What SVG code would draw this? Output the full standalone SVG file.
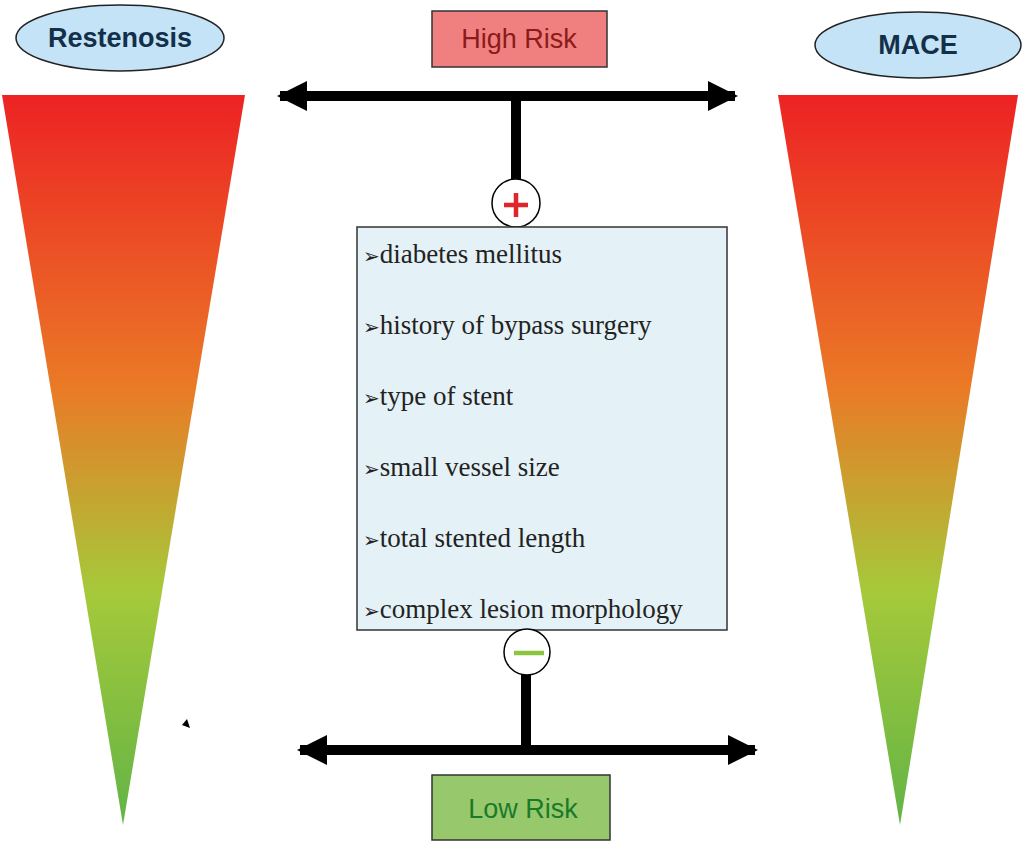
<svg xmlns="http://www.w3.org/2000/svg" width="1024" height="843" viewBox="0 0 1024 843">
<defs>
<linearGradient id="g" x1="0" y1="0" x2="0" y2="1">
<stop offset="0" stop-color="#ed2224"/>
<stop offset="0.4" stop-color="#ea7a26"/>
<stop offset="0.68" stop-color="#a6c93a"/>
<stop offset="1" stop-color="#62b446"/>
</linearGradient>
<marker id="ah" viewBox="0 0 10 10" refX="9" refY="5" markerWidth="3" markerHeight="3" orient="auto-start-reverse" markerUnits="strokeWidth">
<path d="M0,0 L10,5 L0,10 Z" fill="#000"/>
</marker>
</defs>
<style>
.lbl{font-family:"Liberation Sans",Arial,sans-serif;font-size:27px;text-anchor:middle}
.item{font-family:"Liberation Serif","Times New Roman",serif;font-size:27px;fill:#222}
.bul{font-family:"DejaVu Sans",sans-serif;font-size:20px}
.ln{stroke:#000;stroke-width:10;fill:none}
</style>
<rect width="1024" height="843" fill="#fff"/>
<g id="left-wedge"><polygon points="2,95 245,95 123,825" fill="url(#g)"/></g>
<g id="right-wedge"><polygon points="778,95 1018,95 900,825" fill="url(#g)"/></g>
<g id="restenosis"><ellipse cx="120" cy="38" rx="104" ry="33" fill="#c5e3f6" stroke="#222" stroke-width="1.5"/><text class="lbl" x="120" y="47" font-weight="bold" fill="#12304a">Restenosis</text></g>
<g id="mace"><ellipse cx="918" cy="45" rx="103" ry="33" fill="#c5e3f6" stroke="#222" stroke-width="1.5"/><text class="lbl" x="918" y="54" font-weight="bold" fill="#12304a">MACE</text></g>
<g id="high-risk"><rect x="432" y="11" width="175" height="56" fill="#f08080" stroke="#333" stroke-width="1.5"/><text class="lbl" x="519" y="48" fill="#8b1a1a">High Risk</text></g>
<g id="low-risk"><rect x="432" y="775" width="178" height="65" fill="#98c86c" stroke="#333" stroke-width="1.5"/><text class="lbl" x="523" y="818" fill="#1b7a2a">Low Risk</text></g>
<g id="connectors">
<line class="ln" x1="280" y1="96" x2="735" y2="96" marker-start="url(#ah)" marker-end="url(#ah)"/>
<line class="ln" x1="516" y1="96" x2="516" y2="180"/>
<line class="ln" x1="300" y1="750" x2="755" y2="750" marker-start="url(#ah)" marker-end="url(#ah)"/>
<line class="ln" x1="526" y1="672" x2="526" y2="750"/>
</g>
<g id="plus"><circle cx="516" cy="203" r="24" fill="#fff" stroke="#000" stroke-width="1.5"/><path d="M504,205 H528 M516,193 V217" stroke="#e0262a" stroke-width="4.5"/></g>
<g id="factors"><rect x="357" y="227" width="370" height="403" fill="#e4f1f6" stroke="#333" stroke-width="1.5"/>
<text x="363" y="263" class="item"><tspan class="bul">➢</tspan>diabetes mellitus</text>
<text x="363" y="334" class="item"><tspan class="bul">➢</tspan>history of bypass surgery</text>
<text x="363" y="405" class="item"><tspan class="bul">➢</tspan>type of stent</text>
<text x="363" y="476" class="item"><tspan class="bul">➢</tspan>small vessel size</text>
<text x="363" y="547" class="item"><tspan class="bul">➢</tspan>total stented length</text>
<text x="363" y="618" class="item"><tspan class="bul">➢</tspan>complex lesion morphology</text>
</g>
<g id="minus"><circle cx="527" cy="652" r="23" fill="#fff" stroke="#000" stroke-width="1.5"/><path d="M514,653 H544" stroke="#8cc63f" stroke-width="4.5"/></g>
<g id="mark"><polygon points="182,725 190,728 187,719" fill="#000"/></g>
</svg>
